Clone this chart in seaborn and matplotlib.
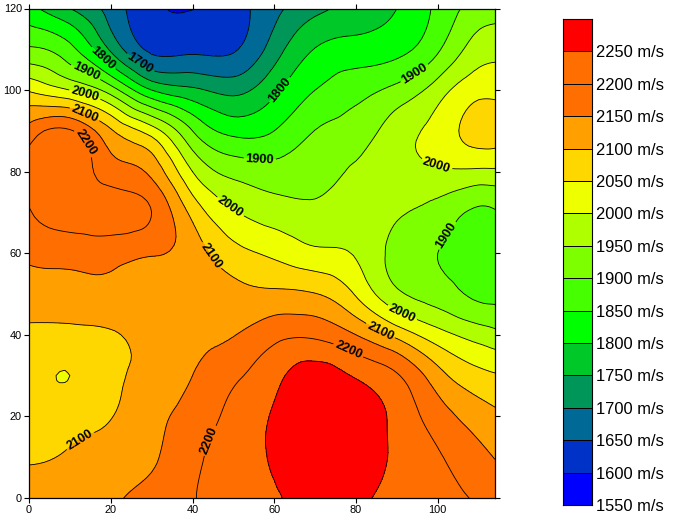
import numpy as np
import pandas as pd
import matplotlib
matplotlib.use("Agg")
import matplotlib.pyplot as plt
import matplotlib.tri as mtri
from matplotlib.colors import ListedColormap
import seaborn as sns

# grid
dist_x = [0, 10, 20, 30, 40, 50, 60, 70, 80, 90, 100, 110, 114]
depth_y = [120, 110, 100, 90, 80, 70, 60, 50, 40, 30, 20, 10, 0]

speed_y120 = [1815, 1750, 1680, 1610, 1599, 1630, 1685, 1735, 1770, 1800, 1862, 1920, 1925]
speed_y110 = [1907, 1865, 1742, 1640, 1640, 1645, 1725, 1802, 1820, 1835, 1893, 1975, 1985]
speed_y100 = [2045, 2000, 1925, 1800, 1760, 1735, 1790, 1850, 1882, 1915, 1975, 2035, 2036]
speed_y90 = [2170, 2205, 2107, 2025, 1900, 1835, 1850, 1901, 1925, 1975, 2020, 2070, 2070]
speed_y80 = [2218, 2235, 2175, 2137, 2000, 1935, 1920, 1929, 1957, 1975, 1992, 1990, 1990]
speed_y70 = [2197, 2222, 2225, 2200, 2085, 2005, 1975, 1962, 1975, 1955, 1930, 1890, 1895]
speed_y60 = [2162, 2170, 2170, 2155, 2125, 2068, 2040, 2012, 1995, 1932, 1900, 1868, 1862]
speed_y50 = [2125, 2130, 2135, 2125, 2135, 2117, 2110, 2102, 2045, 1960, 1925, 1888, 1885]
speed_y40 = [2090, 2085, 2095, 2120, 2138, 2148, 2185, 2190, 2150, 2085, 2020, 1978, 1965]
speed_y30 = [2072, 2050, 2085, 2118, 2150, 2190, 2235, 2275, 2245, 2205, 2120, 2065, 2055]
speed_y20 = [2075, 2078, 2098, 2135, 2170, 2215, 2255, 2290, 2285, 2235, 2175, 2125, 2110]
speed_y10 = [2096, 2105, 2125, 2145, 2185, 2230, 2255, 2290, 2285, 2240, 2205, 2165, 2148]
speed_y0 = [2115, 2125, 2143, 2165, 2195, 2240, 2245, 2280, 2265, 2230, 2212, 2195, 2185]

levels = [1550, 1600, 1650, 1700, 1750, 1800, 1850, 1900, 1950,
          2000, 2050, 2100, 2150, 2200, 2250, 2300]
label_levels = [1700, 1800, 1900, 2000, 2100, 2200]
plain_levels = [v for v in levels if v not in label_levels]
band_colors = [
    "#0000ff", "#0032c8", "#006996", "#00965a", "#00c828",
    "#00ff00", "#46ff00", "#7dff00", "#afff00", "#eeff00",
    "#ffd700", "#ffa000", "#ff6e00", "#ff6e00", "#ff0000",
]

sns.set_style("ticks")
plt.rcParams["font.family"] = ["Liberation Sans", "DejaVu Sans"]

W, H = 674, 522
fig = plt.figure(figsize=(W / 100, H / 100), dpi=100)
ax = fig.add_axes([29 / W, (H - 498) / H, 466 / W, 489.5 / H])

speed = np.array([
    speed_y120, speed_y110, speed_y100, speed_y90, speed_y80, speed_y70, speed_y60,
    speed_y50, speed_y40, speed_y30, speed_y20, speed_y10, speed_y0,
], dtype=float)
xx, yy = np.meshgrid(dist_x, depth_y)

# smooth drawing of the coarse grid
tri = mtri.Triangulation(xx.ravel(), yy.ravel())
interp = mtri.CubicTriInterpolator(tri, speed.ravel(), kind="min_E")
tri_fine, speed_fine = mtri.UniformTriRefiner(tri).refine_field(
    speed.ravel(), triinterpolator=interp, subdiv=3
)

ax.tricontourf(tri_fine, speed_fine, levels=levels, colors=band_colors)
ax.tricontour(tri_fine, speed_fine, levels=plain_levels, colors="black", linewidths=0.6)
# clabel with manual spots only works if every level of the set is labelled
lines = ax.tricontour(tri_fine, speed_fine, levels=label_levels, colors="black", linewidths=0.6)

# same spots as the labels of the reference
label_spots = [
    (28, 107.6), (18, 107.6), (13.7, 104), (13.7, 99), (13.7, 94.3), (13.5, 87),
    (56.5, 83.6), (49, 71), (44, 59), (62, 99.5), (94, 104.6), (100, 82.5),
    (102, 64.5), (91.4, 45.6), (86, 41), (78, 36), (45, 13.7), (13, 13.4),
]
texts = ax.clabel(lines, manual=label_spots, fmt="%d",
                  fontsize=9.2, inline=True, inline_spacing=2)
for t in texts:
    t.set_fontweight("bold")

ax.set_xlim(0, 114)
ax.set_ylim(0, 120)
ax.set_xticks(range(0, 101, 20))
ax.set_yticks(range(0, 121, 20))
ax.tick_params(direction="out", length=3.6, width=0.8, labelsize=7.9, pad=1.5,
               top=True, right=True, color="black", labelcolor="black")
for side in ax.spines.values():
    side.set_linewidth(0.9)
    side.set_color("black")

# legend bar
cax = fig.add_axes([563 / W, (H - 505) / H, 29 / W, 486 / H])
mids = [(a + b) / 2 for a, b in zip(levels[:-1], levels[1:])]
bar = pd.DataFrame({"speed": mids[::-1]})
sns.heatmap(bar, ax=cax, cmap=ListedColormap(band_colors), vmin=levels[0], vmax=levels[-1],
            cbar=False, linewidths=0.5, linecolor="black", xticklabels=False)
cax.yaxis.tick_right()
cax.set_yticks(range(1, 16))
cax.set_yticklabels([f"{v} m/s" for v in levels[-2::-1]], rotation=0, fontsize=11.9)
cax.tick_params(axis="y", length=0, pad=3, colors="black")
for side in cax.spines.values():
    side.set_visible(True)
    side.set_linewidth(0.8)
    side.set_color("black")

fig.savefig("out.png", dpi=100)
